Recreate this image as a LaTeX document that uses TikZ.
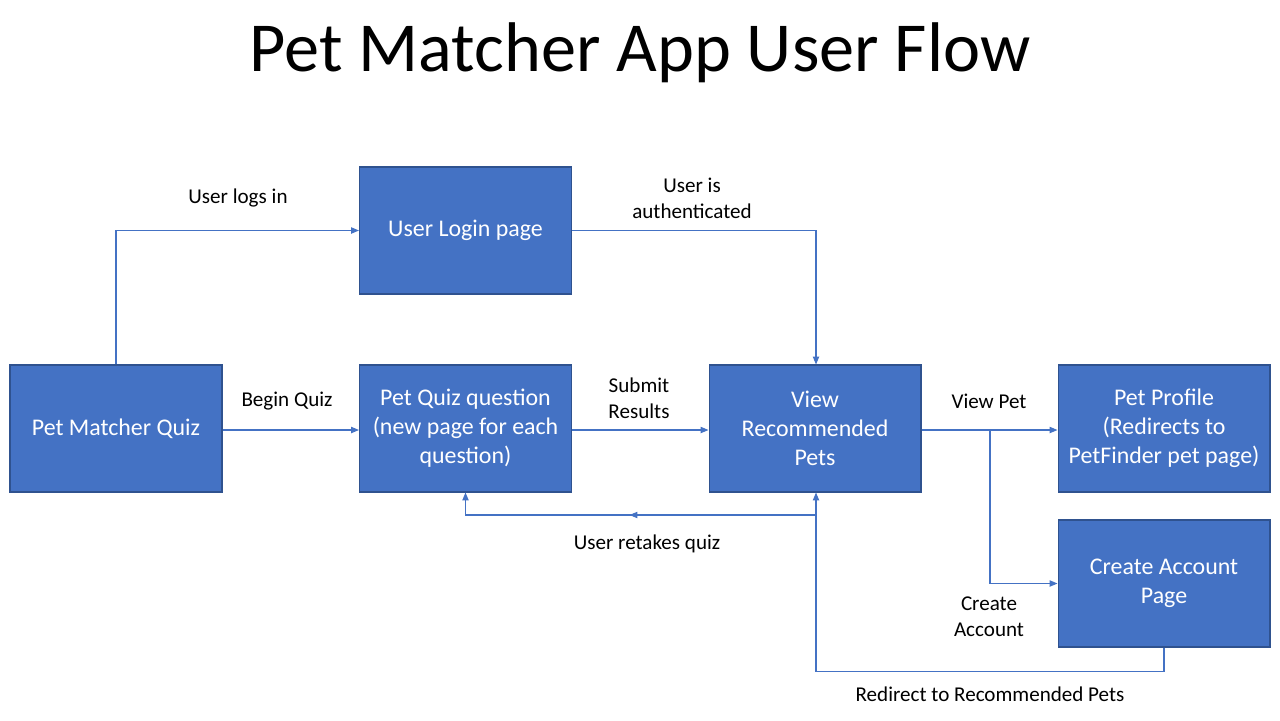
\documentclass[tikz,border=0pt]{standalone}
\usepackage{fontspec}
\setmainfont{Carlito}
\usepackage{xcolor}
\usetikzlibrary{positioning, arrows.meta, decorations.markings}

\definecolor{boxblue}{HTML}{4472C4}
\definecolor{boxedge}{HTML}{2F528F}

\tikzset{
	page/.style={rectangle, fill=boxblue, draw=boxedge, line width=0.6pt,
		minimum width=4.24cm, minimum height=2.54cm, inner sep=0pt,
		text=white, align=center, font=\fontsize{13.6}{16.5}\selectfont},
	flow/.style={draw=boxblue, line width=0.6pt, -{Triangle[length=4.5pt, width=3.6pt]}},
	midarrow/.style={postaction={decorate}, decoration={markings,
		mark=at position #1 with {\arrow{Triangle[length=4.5pt, width=3.6pt]}}}},
	lbl/.style={align=center, font=\fontsize{12}{14.7}\selectfont}
}

\begin{document}
\begin{tikzpicture}[x=0.02cm, y=-0.02cm]
			\useasboundingbox (0,0) rectangle (1280,720);
			
			\node[font=\fontsize{40}{48}\selectfont] (title) at (640,53) {Pet Matcher App User Flow};
			
			\node[page] (quiz) at (116,428.5) {Pet Matcher Quiz};
			\node[page] (login) at (465.5,230.5) {User Login page};
			\node[page] (question) at (465.5,428.5) {Pet Quiz question\\(new page for each\\question)};
			\node[page] (view) at (815,428.5) {View\\Recommended\\Pets};
			\node[page] (profile) at (1164,428.5) {Pet Profile\\(Redirects to\\PetFinder pet page)};
			\node[page] (create) at (1164,583.5) {Create Account\\Page};
			
			\coordinate (split) at (990,430);
			\coordinate (retake) at (816,515);
			
			% top row
			\draw[flow] (quiz.north) |- (login.west);
			\draw[flow] (login.east) -| ([xshift=0.02cm]view.north);
			
			% middle row
			\draw[flow] (quiz.east |- split) -- (question.west |- split);
			\draw[flow] (question.east |- split) -- (view.west |- split);
			\draw[flow] (view.east |- split) -- (profile.west |- split);
			\draw[flow] (split) |- (create.west);
			
			% back edges
			\draw[flow, midarrow=0.5] (retake) -- (question.south |- retake) -- (question.south);
			\draw[flow] (create.south) -- ++(0,24) -| ([xshift=0.02cm]view.south);
			
			% labels
			\node[lbl] (l-login) at (238,198) {User logs in};
			\node[lbl] (l-auth) at (692,198) {User is\\authenticated};
			\node[lbl] (l-begin) at (287,401) {Begin Quiz};
			\node[lbl] (l-submit) at (639,398) {Submit\\Results};
			\node[lbl] (l-viewpet) at (989,401) {View Pet};
			\node[lbl] (l-retake) at (647,544) {User retakes quiz};
			\node[lbl] (l-create) at (989,617) {Create\\Account};
			\node[lbl] (l-redirect) at (990,694) {Redirect to Recommended Pets};
		\end{tikzpicture}
\end{document}
